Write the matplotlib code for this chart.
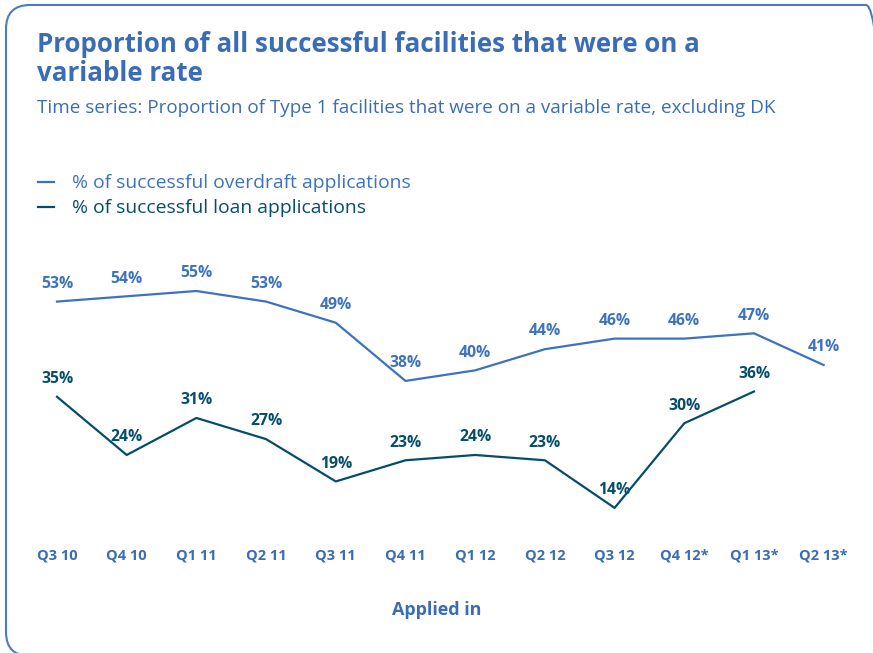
#%%imports
import matplotlib.pyplot as plt
from matplotlib.patches import FancyBboxPatch
import numpy as np

#%%data
quarters = ["Q3 10", "Q4 10", "Q1 11", "Q2 11", "Q3 11", "Q4 11",
            "Q1 12", "Q2 12", "Q3 12", "Q4 12*", "Q1 13*", "Q2 13*"]
overdraft = [53, 54, 55, 53, 49, 38, 40, 44, 46, 46, 47, 41]
loan      = [35, 24, 31, 27, 19, 23, 24, 23, 14, 30, 36]          #no value for Q2 13*

C_OVD   = "#3d72bf"     #overdraft line
C_LOAN  = "#054e6b"     #loan line
C_TEXT  = "#3a6db5"     #titles and ticks

plt.rcParams["font.family"] = ["Open Sans", "DejaVu Sans"]

#%%figure
W, H = 873, 653
fig = plt.figure(figsize=(W/100, H/100), dpi=100)

#rounded frame round the panel (in inches, y from bottom)
frame = FancyBboxPatch((6/100, -3/100), 884/100, 651/100,
    boxstyle="round,pad=0,rounding_size=0.24", transform=fig.dpi_scale_trans,
    fc="none", ec="#4a7cc4", lw=1.5)
fig.patches.append(frame)

fig.text(37/W, 1-59/H, "Proportion of all successful facilities that were on a\nvariable rate",
    color=C_TEXT, fontsize=18.6, fontweight="bold", va="center", ha="left", linespacing=1.12)
fig.text(37/W, 1-108/H, "Time series: Proportion of Type 1 facilities that were on a variable rate, excluding DK",
    color=C_TEXT, fontsize=13.6, va="center", ha="left")

#axes placed so that 0..60 % and the 12 quarters land on the panel area
x0, dx = 57, 69.7
y55, dy = 291, 5.29
left = (x0 - 0.5*dx)/W
right = (x0 + 11.5*dx)/W
bottom = 1 - (y55 + 55*dy)/H
top = 1 - (y55 - 5*dy)/H
ax = fig.add_axes([left, bottom, right-left, top-bottom])
ax.set_xlim(-0.5, 11.5)
ax.set_ylim(0, 60)

x = np.arange(len(quarters))
ax.plot(x, overdraft, color=C_OVD, lw=1.6, label="% of successful overdraft applications")
ax.plot(x[:len(loan)], loan, color=C_LOAN, lw=1.6, label="% of successful loan applications")

for (xi, v) in zip(x, overdraft):
    ax.annotate(f"{v}%", (xi, v), xytext=(0, 7), textcoords="offset points",
        ha="center", va="bottom", color=C_OVD, fontsize=11.3, fontweight="bold")
for (xi, v) in zip(x, loan):
    ax.annotate(f"{v}%", (xi, v), xytext=(0, 7), textcoords="offset points",
        ha="center", va="bottom", color=C_LOAN, fontsize=11.3, fontweight="bold")

ax.set_xticks(x, quarters)
ax.tick_params(axis="x", length=0, pad=0, labelcolor=C_TEXT, labelsize=10.5)
for t in ax.get_xticklabels():
    t.set_fontweight("bold")
    t.set_y(-(549 - (y55 + 55*dy))/(top-bottom)/H)    #move labels down below the plot
ax.set_yticks([])
for s in ax.spines.values():
    s.set_visible(False)

fig.text(437/W, 1-610/H, "Applied in", color=C_TEXT, fontsize=13, fontweight="bold",
    ha="center", va="center")

leg = ax.legend(loc="upper left", bbox_to_anchor=(21/W, 1-157/H), bbox_transform=fig.transFigure,
    frameon=False, handlelength=0.8, handletextpad=0.95, labelspacing=0.36,
    fontsize=13.9, labelcolor="linecolor")

fig.savefig("out.png", dpi=100)
